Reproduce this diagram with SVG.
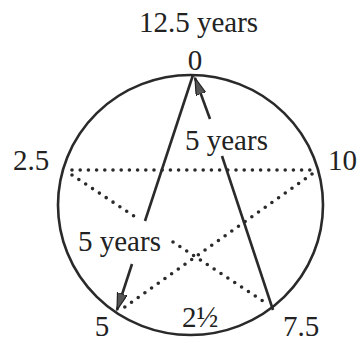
<svg xmlns="http://www.w3.org/2000/svg" width="361" height="343" viewBox="0 0 361 343">
<style>
text{font-family:"Times New Roman","Liberation Serif","DejaVu Serif",serif;font-size:29px;fill:#222}
.solid{stroke:#2a2a2a;stroke-width:2.6;fill:none}
.dot{stroke:#2a2a2a;stroke-width:3.6;stroke-linecap:round;stroke-dasharray:0 8.2;fill:none}
</style>
<defs>
<marker id="ah" markerUnits="userSpaceOnUse" markerWidth="20" markerHeight="12" refX="17" refY="5" orient="auto">
<path d="M0,0 L17,5 L0,10 Z" fill="#555" stroke="#222" stroke-width="1.2"/>
</marker>
</defs>
<rect width="361" height="343" fill="#fff"/>
<g id="circle"><ellipse cx="190.5" cy="205" rx="132.5" ry="130" fill="none" stroke="#2a2a2a" stroke-width="2.6"/></g>
<g id="connectors">
<line class="dot" x1="72" y1="170" x2="316" y2="170"/>
<line class="dot" x1="72" y1="175" x2="140" y2="220"/>
<line class="dot" x1="173" y1="242" x2="266" y2="303"/>
<line class="dot" x1="312" y1="174" x2="122" y2="309"/>
<line class="solid" x1="193" y1="75" x2="145" y2="221"/>
<line class="solid" x1="222" y1="156" x2="273" y2="310"/>
<line class="solid" x1="132" y1="264" x2="117" y2="310" marker-end="url(#ah)"/>
<line class="solid" x1="210" y1="119" x2="195" y2="78" marker-end="url(#ah)"/>
</g>
<g id="labels">
<text x="198.5" y="32" text-anchor="middle">12.5 years</text>
<text x="195" y="70" text-anchor="middle">0</text>
<text x="185" y="150">5 years</text>
<text x="13" y="170">2.5</text>
<text x="328" y="170">10</text>
<text x="78" y="251">5 years</text>
<text x="102" y="336" text-anchor="middle">5</text>
<text x="182" y="327">2½</text>
<text x="283" y="336">7.5</text>
</g>
</svg>
